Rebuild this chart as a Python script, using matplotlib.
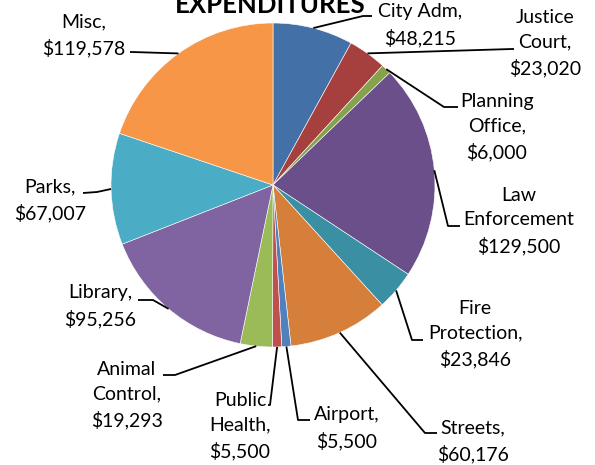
import numpy as np
import matplotlib
matplotlib.use("Agg")
import matplotlib.pyplot as plt

plt.rcParams['font.family'] = ['Lato', 'DejaVu Sans']

# data
names = ["City Adm,", "Justice\nCourt,", "Planning\nOffice,", "Law\nEnforcement",
         "Fire\nProtection,", "Streets,", "Airport,", "Public\nHealth,",
         "Animal\nControl,", "Library,", "Parks,", "Misc,"]
values = [48215, 23020, 6000, 129500, 23846, 60176, 5500, 5500, 19293, 95256, 67007, 119578]
colors = ['#4470A8', '#A5403E', '#86A24A', '#6B4F8A', '#3A8FA2', '#D57F3A',
          '#4F81BD', '#C0504D', '#9BBB59', '#8064A2', '#4BACC6', '#F79646']

# label layout (pixels from top-left): text centre, leader elbow points
W, H = 595, 465
text_pos = [(420, 25), (545, 43), (497, 127), (519, 221), (475, 334), (473, 441),
            (347, 428), (240, 426), (127, 395), (100, 306), (50, 200), (84, 35)]
leaders = [[(363, 16), (372, 16)], [(512, 49), (514, 49)], [(444, 107), (458, 107)],
           [(448, 226), (460, 226)], [(412, 340), (423, 340)], [(425, 433), (437, 433)],
           [(298, 420), (310, 420)], [(270, 405), (268, 405)], [(175, 375), (163, 375)],
           [(153, 300), (138, 300)], [(97, 192), (83, 193)], [(132, 52), (130, 52)]]

cx, cy, r = 273, H - 185, 162

fig = plt.figure(figsize=(5.95, 4.65), dpi=100)
ax = fig.add_axes([0, 0, 1, 1])
wedges, _ = ax.pie(values, colors=colors, startangle=90, counterclock=False,
                   center=(cx, cy), radius=r,
                   wedgeprops=dict(edgecolor='white', linewidth=0.4))
ax.set_xlim(0, W)
ax.set_ylim(0, H)
ax.set_aspect('equal')
ax.axis('off')

for w, name, v, tp, pts in zip(wedges, names, values, text_pos, leaders):
    mid = np.deg2rad((w.theta1 + w.theta2) / 2)
    xs = [cx + r * np.cos(mid)] + [p[0] for p in pts]
    ys = [cy + r * np.sin(mid)] + [H - p[1] for p in pts]
    ax.plot(xs, ys, color='black', lw=1.3, solid_capstyle='butt')
    ax.text(tp[0], H - tp[1], f"{name}\n${v:,}", ha='center', va='center',
            multialignment='center', fontsize=14, linespacing=1.55)

ax.text(270, H - 13, "EXPENDITURES", ha='center', va='baseline',
        fontsize=18.5, fontweight='bold')

fig.savefig('out.png', dpi=100)
